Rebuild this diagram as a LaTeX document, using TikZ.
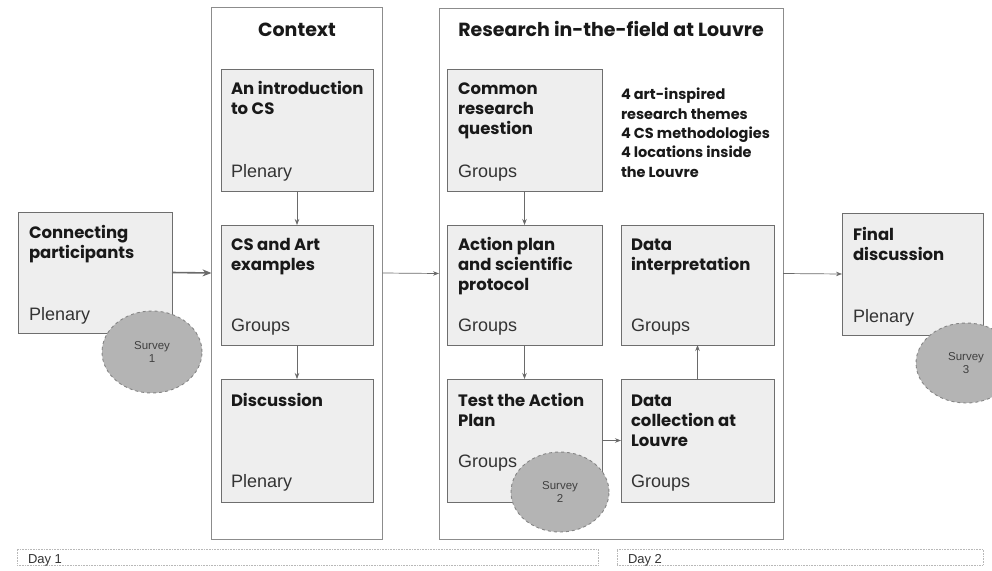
\documentclass[tikz,border=0pt]{standalone}
\usepackage{fontspec}
\setmainfont{Liberation Sans}
\newfontfamily\headfont{Poppins}
\usetikzlibrary{shapes.geometric,arrows.meta}
\definecolor{boxfill}{HTML}{EEEEEE}
\definecolor{boxline}{HTML}{6E6E6E}
\definecolor{outerline}{HTML}{8C8C8C}
\definecolor{arrowc}{HTML}{6A6A6A}
\definecolor{survfill}{HTML}{B4B4B4}
\definecolor{survline}{HTML}{858585}
\definecolor{dayline}{HTML}{B8B8B8}
\tikzset{
  every node/.style={inner sep=0pt, outer sep=0pt},
  stepbox/.style={draw=boxline, fill=boxfill, line width=0.9pt, rectangle},
  outerbox/.style={draw=outerline, fill=white, line width=0.9pt, rectangle},
  headtxt/.style={anchor=base west, align=left, font=\headfont\bfseries\fontsize{16.5}{20}\selectfont, text=black!90},
  subtxt/.style={anchor=base west, font=\fontsize{18}{20}\selectfont, text=black!80},
  titletxt/.style={anchor=base, font=\headfont\bfseries\fontsize{19}{22}\selectfont, text=black!90},
  survey/.style={ellipse, draw=survline, fill=survfill, dashed, line width=0.9pt, align=center, font=\fontsize{11.5}{13}\selectfont, text=black!75},
  daytxt/.style={anchor=base west, font=\fontsize{13}{14}\selectfont, text=black!80},
  conn/.style={draw=arrowc, line width=0.7pt, -{Stealth[length=6pt,width=4.5pt]}},
  thickconn/.style={draw=arrowc, line width=1.6pt, -{Stealth[length=9pt,width=7pt]}},
  daybox/.style={draw=dayline, densely dotted, line width=0.6pt, rectangle},
}
\begin{document}
\begin{tikzpicture}[x=1pt,y=-1pt]
\useasboundingbox (0,0) rectangle (992,570);
\clip (0,0) rectangle (992,570);
% outer boxes
\node[outerbox, minimum width=171pt, minimum height=532pt] (ctx) at (297,273) {};
\node[outerbox, minimum width=344pt, minimum height=531pt] (res) at (611,273.5) {};
\node[titletxt] (ctxtitle) at (297,36) {Context};
\node[titletxt] (restitle) at (611,36) {Research in-the-field at Louvre};
% Connecting participants
\node[stepbox, minimum width=154pt, minimum height=121pt] (cp) at (95,272.5) {};
\node[headtxt] (cpt) at (29,258) {Connecting\\participants};
\node[subtxt] (cps) at (29,320) {Plenary};
% Context boxes
\node[stepbox, minimum width=152pt, minimum height=122pt] (intro) at (297,130) {};
\node[headtxt] (introt) at (231,114) {An introduction\\to CS};
\node[subtxt] (intros) at (231,177) {Plenary};
\node[stepbox, minimum width=152pt, minimum height=120pt] (csart) at (297,285) {};
\node[headtxt] (csartt) at (231,270) {CS and Art\\examples};
\node[subtxt] (csarts) at (231,331) {Groups};
\node[stepbox, minimum width=152pt, minimum height=123pt] (disc) at (297,440.5) {};
\node[headtxt] (disct) at (231,406) {Discussion};
\node[subtxt] (discs) at (231,487) {Plenary};
% Research boxes
\node[stepbox, minimum width=155pt, minimum height=122pt] (common) at (524.5,130) {};
\node[headtxt] (commont) at (458,134) {Common\\research\\question};
\node[subtxt] (commons) at (458,177) {Groups};
\node[anchor=base west, align=left, font=\headfont\bfseries\fontsize{14.5}{19.3}\selectfont, text=black!90] (themes) at (621,177) {4 art-inspired\\research themes\\4 CS methodologies\\4 locations inside\\the Louvre};
\node[stepbox, minimum width=155pt, minimum height=120pt] (action) at (524.5,285) {};
\node[headtxt] (actiont) at (458,290) {Action plan\\and scientific\\protocol};
\node[subtxt] (actions) at (458,331) {Groups};
\node[stepbox, minimum width=153pt, minimum height=120pt] (dint) at (697.5,285) {};
\node[headtxt] (dintt) at (631,270) {Data\\interpretation};
\node[subtxt] (dints) at (631,331) {Groups};
\node[stepbox, minimum width=155pt, minimum height=123pt] (test) at (524.5,440.5) {};
\node[headtxt] (testt) at (458,426) {Test the Action\\Plan};
\node[subtxt] (tests) at (458,467) {Groups};
\node[stepbox, minimum width=153pt, minimum height=123pt] (dcol) at (697.5,440.5) {};
\node[headtxt] (dcolt) at (631,446) {Data\\collection at\\Louvre};
\node[subtxt] (dcols) at (631,487) {Groups};
% Final discussion
\node[stepbox, minimum width=141pt, minimum height=122pt] (final) at (912.5,274) {};
\node[headtxt] (finalt) at (853,260) {Final\\discussion};
\node[subtxt] (finals) at (853,322) {Plenary};
% connectors
\draw[thickconn] (cp.east) -- (ctx.west);
\draw[conn] (ctx.east) -- (res.west);
\draw[conn] (res.east) -- (final.west);
\draw[conn] (intro.south) -- (csart.north);
\draw[conn] (csart.south) -- (disc.north);
\draw[conn] (common.south) -- (action.north);
\draw[conn] (action.south) -- (test.north);
\draw[conn] (test.east) -- (dcol.west);
\draw[conn] (dcol.north) -- (dint.south);
% surveys
\node[survey, minimum width=100pt, minimum height=82pt] (s1) at (152,352) {Survey\\1};
\node[survey, minimum width=98pt, minimum height=80pt] (s2) at (560,492) {Survey\\2};
\node[survey, minimum width=100pt, minimum height=80pt] (s3) at (966,363) {Survey\\3};
% days
\node[daybox, minimum width=581pt, minimum height=16pt] (day1) at (307.5,557) {};
\node[daytxt] (day1t) at (28,563) {Day 1};
\node[daybox, minimum width=366pt, minimum height=16pt] (day2) at (800,557) {};
\node[daytxt] (day2t) at (628,563) {Day 2};
\end{tikzpicture}
\end{document}
